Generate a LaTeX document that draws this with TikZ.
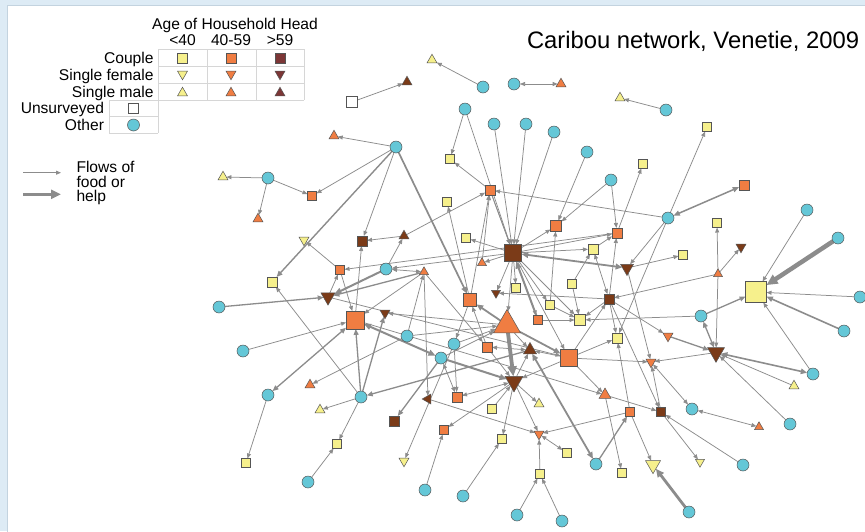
\documentclass[tikz,border=0pt]{standalone}
\usepackage{fontspec}
\setmainfont{Liberation Sans}
\usetikzlibrary{arrows.meta,shapes.geometric}
\definecolor{yel}{HTML}{F6F08C}
\definecolor{org}{HTML}{F07D42}
\definecolor{brn}{HTML}{7B3B18}
\definecolor{legbrn}{HTML}{7C3636}
\definecolor{cyn}{HTML}{64C7D7}
\definecolor{olc}{HTML}{555555}
\definecolor{edgec}{HTML}{8C8C8C}
\definecolor{bgblue}{HTML}{DDEBF5}
\definecolor{bordc}{HTML}{C3D3DF}
\definecolor{gridc}{HTML}{D6D6D6}
\pgfdeclarelayer{bg}
\pgfdeclarelayer{edges}
\pgfsetlayers{bg,edges,main}
\tikzset{
  nd/.style={draw=olc, line width=0.5pt, inner sep=0pt, outer sep=0pt},
  nsq/.style 2 args={nd, rectangle, fill=#1, minimum size=#2pt},
  ntu/.style 2 args={nd, regular polygon, regular polygon sides=3, fill=#1, minimum size={1.155*#2pt}},
  ntd/.style 2 args={ntu={#1}{#2}, shape border rotate=180},
  ntl/.style 2 args={ntu={#1}{#2}, shape border rotate=90},
  nci/.style={nd, circle, fill=cyn, minimum size=12pt},
  >={Triangle[length=3.8pt 1.6,width=2.8pt 1.6]},
  lt/.style={draw=edgec, line width=0.75pt},
  lm/.style={draw=edgec, line width=1.3pt},
  lk/.style={draw=edgec, line width=2pt},
  lkk/.style={draw=edgec, line width=4pt},
  txt/.style={inner sep=0pt, outer sep=0pt},
}
\begin{document}
\begin{tikzpicture}[x=1pt,y=-1pt,font=\fontsize{15.6}{17}\selectfont]
\useasboundingbox (0,0) rectangle (865,531);
\begin{pgfonlayer}{bg}
\fill[bgblue] (0,0) rectangle (865,531);
\fill[white] (7.5,5) rectangle (866,532);
\draw[bordc,line width=0.6pt] (7.5,532) -- (7.5,5) -- (866,5);
\end{pgfonlayer}

% ---------- title ----------
\node[txt,anchor=base west,font=\fontsize{23.8}{26}\selectfont] (title) at (527,48) {Caribou network, Venetie, 2009};

% ---------- legend table ----------
\draw[gridc,line width=0.7pt] (158,49.3) -- (304,49.3) (158,66.7) -- (304,66.7) (158,83.3) -- (304,83.3)
  (109,100) -- (304,100) (109,116.7) -- (158,116.7) (109,133.3) -- (158,133.3)
  (158,49.3) -- (158,133.3) (207,49.3) -- (207,100) (256,49.3) -- (256,100) (304,49.3) -- (304,100)
  (109,100) -- (109,133.3);
\node[txt,anchor=base] (hdr) at (235,29.3) {Age of Household Head};
\node[txt,anchor=base] (h1) at (182.5,45) {<40};
\node[txt,anchor=base] (h2) at (231,45) {40-59};
\node[txt,anchor=base] (h3) at (280,45) {>59};
\node[txt,anchor=base east] (r1) at (153.5,63.5) {Couple};
\node[txt,anchor=base east] (r2) at (153.5,80.5) {Single female};
\node[txt,anchor=base east] (r3) at (153.5,97.2) {Single male};
\node[txt,anchor=base east] (r4) at (104,113.8) {Unsurveyed};
\node[txt,anchor=base east] (r5) at (104,130.5) {Other};
\node[nsq={yel}{10}] (ly1) at (182.5,58) {};
\node[nsq={org}{10}] (lo1) at (231,58) {};
\node[nsq={legbrn}{10}] (lb1) at (280,58) {};
\node[ntd={yel}{10}] (ly2) at (182.5,74) {};
\node[ntd={org}{10}] (lo2) at (231,74) {};
\node[ntd={legbrn}{10}] (lb2) at (280,74) {};
\node[ntu={yel}{10}] (ly3) at (182.5,93) {};
\node[ntu={org}{10}] (lo3) at (231,93) {};
\node[ntu={legbrn}{10}] (lb3) at (280,93) {};
\node[nsq={white}{10}] (lw) at (133.5,108.3) {};
\node[nci] (lc) at (133.5,125) {};

% flows legend
\coordinate (fa1) at (23,172.7); \coordinate (fa2) at (61,172.7);
\coordinate (fb1) at (23,194.3); \coordinate (fb2) at (61,194.3);
\draw[lt,->] (fa1) -- (fa2);
\draw[draw=edgec,line width=3pt,-{Triangle[length=10pt,width=9pt]}] (fb1) -- (fb2);
\node[txt,anchor=base west] (fl1) at (76.5,172.3) {Flows of};
\node[txt,anchor=base west] (fl2) at (76.5,187.3) {food or};
\node[txt,anchor=base west] (fl3) at (76.5,201.7) {help};

% ---------- nodes ----------
\node[nsq={white}{11}] (w1) at (352,102) {};
\node[ntu={brn}{10}] (b1) at (407,82) {};
\node[ntu={yel}{10}] (y1) at (432,60) {};
\node[nci] (c1) at (483,87) {};
\node[nci] (c2) at (514,84) {};
\node[ntu={org}{10}] (o1) at (561,84) {};
\node[nci] (c3) at (465,109) {};
\node[nci] (c4) at (494,124) {};
\node[nci] (c5) at (526,124) {};
\node[nci] (c6) at (554,132) {};
\node[nci] (c7) at (587,152) {};
\node[ntu={org}{10}] (o2) at (334,136) {};
\node[nci] (c8) at (396,147) {};
\node[nsq={yel}{9}] (y2) at (450,159) {};
\node[ntu={yel}{10}] (y3) at (620,98) {};
\node[nci] (c9) at (666,110) {};
\node[nsq={yel}{9}] (y4) at (707,127) {};
\node[ntu={yel}{10}] (y5) at (223,177) {};
\node[nci] (c10) at (268,178) {};
\node[nsq={org}{9}] (o3) at (312,196) {};
\node[ntu={org}{10}] (o4) at (258,219) {};
\node[ntd={yel}{10}] (y6) at (304,240) {};
\node[nsq={brn}{10}] (b2) at (362,241) {};
\node[ntu={brn}{10}] (b3) at (404,236) {};
\node[nsq={yel}{10}] (y7) at (272,282) {};
\node[nsq={org}{9}] (o5) at (340,270) {};
\node[nci] (c11) at (386,269) {};
\node[ntd={brn}{14}] (b4) at (328,297) {};
\node[nci] (c12) at (219,307) {};
\node[nsq={org}{18}] (o6) at (355,320) {};
\node[ntd={brn}{10}] (b5) at (385,313) {};
\node[ntu={org}{9}] (o7) at (424,272) {};
\node[nci] (c13) at (407,336) {};
\node[nci] (c14) at (454,344) {};
\node[nci] (c15) at (441,358) {};
\node[nci] (c16) at (243,351) {};
\node[nci] (c17) at (268,395) {};
\node[ntu={org}{10}] (o8) at (310,385) {};
\node[nci] (c18) at (361,397) {};
\node[ntu={yel}{10}] (y8) at (320,410) {};
\node[nsq={brn}{10}] (b6) at (394,421) {};
\node[nsq={yel}{9}] (y9) at (337,444) {};
\node[nsq={yel}{9}] (y10) at (246,463) {};
\node[ntd={yel}{10}] (y11) at (404,461) {};
\node[nci] (c19) at (308,482) {};
\node[nsq={org}{10}] (o9) at (490,190) {};
\node[nsq={yel}{9}] (y12) at (447,202) {};
\node[nsq={yel}{9}] (y13) at (466,238) {};
\node[nsq={brn}{17}] (b7) at (513,253) {};
\node[ntu={org}{9}] (o10) at (482,263) {};
\node[nsq={org}{11}] (o11) at (556,226) {};
\node[nci] (c20) at (611,180) {};
\node[nsq={yel}{10}] (y14) at (593,249) {};
\node[nsq={org}{10}] (o12) at (617,233) {};
\node[nsq={yel}{9}] (y15) at (516,288) {};
\node[ntd={brn}{9}] (b8) at (496,293) {};
\node[nsq={yel}{9}] (y16) at (572,284) {};
\node[nsq={brn}{10}] (b9) at (609,299) {};
\node[nsq={org}{13}] (o13) at (470,300) {};
\node[nsq={yel}{9}] (y17) at (550,305) {};
\node[nsq={org}{9}] (o14) at (538,320) {};
\node[nsq={yel}{11}] (y18) at (580,320) {};
\node[ntu={org}{27}] (o15) at (507,325) {};
\node[nsq={yel}{10}] (y19) at (617,338) {};
\node[nsq={org}{10}] (o16) at (487,347) {};
\node[ntu={brn}{13}] (b10) at (530,350) {};
\node[nsq={org}{17}] (o17) at (569,358) {};
\node[ntd={brn}{18}] (b11) at (514,381.5) {};
\node[ntu={org}{12}] (o18) at (605,395) {};
\node[ntl={brn}{10}] (b12) at (428,399) {};
\node[nsq={org}{10}] (o19) at (457,397) {};
\node[ntu={yel}{10}] (y20) at (539,404) {};
\node[nsq={yel}{9}] (y21) at (492,409) {};
\node[nsq={org}{9}] (o20) at (444,430) {};
\node[nsq={yel}{9}] (y22) at (502,439) {};
\node[ntd={org}{10}] (o21) at (539,434) {};
\node[nsq={yel}{9}] (y23) at (567,453) {};
\node[nci] (c21) at (596,464) {};
\node[nsq={yel}{9}] (y24) at (540,474) {};
\node[nci] (c22) at (425,490) {};
\node[nci] (c23) at (463,496) {};
\node[nci] (c24) at (517,515) {};
\node[nci] (c25) at (562,521) {};
\node[nsq={yel}{9}] (y25) at (622,473) {};
\node[nsq={yel}{9}] (y26) at (643,164) {};
\node[nsq={org}{10}] (o22) at (744,185) {};
\node[nci] (c26) at (668,218) {};
\node[nsq={yel}{9}] (y27) at (717,223) {};
\node[nci] (c27) at (807,210) {};
\node[nci] (c28) at (838,238) {};
\node[ntd={brn}{10}] (b13) at (741,247) {};
\node[ntd={brn}{13}] (b14) at (627,268) {};
\node[nsq={yel}{9}] (y28) at (683,255) {};
\node[ntu={org}{9}] (o23) at (718,274) {};
\node[nsq={yel}{21}] (y29) at (756,292) {};
\node[nci] (c29) at (860,297) {};
\node[nci] (c30) at (701,316) {};
\node[nci] (c31) at (844,331) {};
\node[ntd={org}{10}] (o24) at (668,336) {};
\node[ntd={brn}{17}] (b15) at (716,352.5) {};
\node[ntd={org}{10}] (o25) at (651,362) {};
\node[nci] (c32) at (813,374) {};
\node[ntu={yel}{10}] (y30) at (794,386) {};
\node[nsq={org}{9}] (o26) at (630,412) {};
\node[nsq={brn}{9}] (b16) at (661,412) {};
\node[nci] (c33) at (692,409) {};
\node[ntu={org}{9}] (o27) at (759,427) {};
\node[nci] (c34) at (790,424) {};
\node[ntd={yel}{9}] (y31) at (700,462) {};
\node[nci] (c35) at (743,465) {};
\node[ntd={yel}{15}] (y32) at (653,465) {};
\node[nci] (c36) at (689,512) {};

% ---------- edges ----------
\begin{pgfonlayer}{edges}
\draw[lt,->] (w1) -- (b1);
\draw[lt,->] (c1) -- (y1);
\draw[lt,<->] (c2) -- (o1);
\draw[lt,->] (c3) -- (y2);
\draw[lt,->] (c9) -- (y3);
\draw[lt,->] (c26) -- (y4);
\draw[lt,->] (c8) -- (o2);
\draw[lt,->] (c8) -- (o3);
\draw[lt,->] (c10) -- (y5);
\draw[lt,->] (c10) -- (o3);
\draw[lt,->] (c10) -- (o4);
\draw[draw=edgec,line width=1.4pt,->] (c8) -- (y7);
\draw[lt,->] (c8) -- (b2);
\draw[draw=edgec,line width=1.7pt,->] (c8) -- (o13);
\draw[lt,->] (c3) -- (b7);
\draw[lt,->] (c4) -- (b7);
\draw[lt,->] (c5) -- (b7);
\draw[lt,->] (c6) -- (b7);
\draw[lt,->] (o9) -- (b7);
\draw[lt,->] (c7) -- (o11);
\draw[lt,->] (c20) -- (o11);
\draw[lt,->] (c20) -- (o12);
\draw[lt,->] (o9) -- (y2);
\draw[lt,->] (b3) -- (o9);
\draw[lt,->] (c26) -- (o9);
\draw[lt,->] (o13) -- (o9);
\draw[lt,->] (o10) -- (o9);
\draw[lt,->] (o9) -- (o14);
\draw[lt,->] (o13) -- (y12);
\draw[lt,->] (b7) -- (y13);
\draw[lt,->] (b7) -- (o10);
\draw[lt,->] (b7) -- (o11);
\draw[lt,->] (b7) -- (y14);
\draw[lt,->] (b7) -- (o12);
\draw[draw=edgec,line width=1.8pt,<->] (b7) -- (b14);
\draw[lt,->] (b7) -- (y15);
\draw[lt,->] (b7) -- (b8);
\draw[lk,->] (o14) -- (b7);
\draw[lt,->] (b7) -- (y18);
\draw[lt,->] (b7) -- (o17);
\draw[lt,->] (b7) -- (o15);
\draw[lt,->] (b7) -- (y17);
\draw[lt,->] (b7) -- (c11);
\draw[lt,->] (y14) -- (o12);
\draw[lt,<->] (y14) -- (b9);
\draw[lt,->] (b9) -- (o12);
\draw[lt,->] (y16) -- (y14);
\draw[lt,->] (y16) -- (y18);
\draw[lt,->] (y17) -- (y18);
\draw[lt,->] (y17) -- (o11);
\draw[lt,->] (o14) -- (y18);
\draw[lt,->] (b9) -- (b8);
\draw[lt,->] (b9) -- (y18);
\draw[lt,->] (b9) -- (o24);
\draw[lt,->] (b9) -- (y19);
\draw[lt,->] (b9) -- (b16);
\draw[lt,->] (o17) -- (b9);
\draw[lt,->] (o17) -- (y19);
\draw[lt,->] (o17) -- (o25);
\draw[lt,->] (o12) -- (y26);
\draw[lt,->] (o12) -- (o5);
\draw[draw=edgec,line width=1.5pt,<->] (c26) -- (o22);
\draw[lt,->] (c26) -- (b14);
\draw[lt,->] (c26) -- (y19);
\draw[lt,->] (b14) -- (y28);
\draw[lt,->] (b14) -- (o25);
\draw[lt,->] (o23) -- (y27);
\draw[lt,->] (o23) -- (b13);
\draw[lt,->] (o23) -- (b9);
\draw[lt,->] (o23) -- (b15);
\draw[lt,->] (c27) -- (y29);
\draw[draw=edgec,line width=4.5pt,->] (c28) -- (y29);
\draw[lt,->] (c29) -- (y29);
\draw[lm,->] (c30) -- (y29);
\draw[draw=edgec,line width=1.6pt,->] (c31) -- (y29);
\draw[lt,->] (c32) -- (y29);
\draw[lt,->] (c30) -- (y18);
\draw[lm,<->] (c30) -- (b15);
\draw[draw=edgec,line width=1.6pt,<->] (c32) -- (b15);
\draw[lt,->] (y30) -- (b15);
\draw[lt,->] (c34) -- (b15);
\draw[lm,->] (o24) -- (b15);
\draw[lt,->] (b15) -- (o25);
\draw[lt,->] (b16) -- (o25);
\draw[lt,<->] (o25) -- (c33);
\draw[lt,->] (o18) -- (b16);
\draw[lt,->] (c35) -- (b16);
\draw[lt,->] (b16) -- (y31);
\draw[lt,<->] (c33) -- (o27);
\draw[draw=edgec,line width=2.8pt,->] (c36) -- (y32);
\draw[lt,->] (o26) -- (y32);
\draw[lm,->] (c21) -- (o26);
\draw[lt,->] (o26) -- (y19);
\draw[lt,->] (o18) -- (y25);
\draw[lt,->] (o17) -- (o18);
\draw[lt,->] (o26) -- (o21);
\draw[draw=edgec,line width=1.8pt,<->] (c21) -- (b10);
\draw[lt,->] (o5) -- (y6);
\draw[lt,->] (c11) -- (b3);
\draw[lt,->] (b3) -- (b2);
\draw[lt,->] (o6) -- (b2);
\draw[lt,->] (b4) -- (o5);
\draw[lt,->] (o5) -- (o6);
\draw[lk,->] (c11) -- (b4);
\draw[lm,->] (o7) -- (b4);
\draw[lt,<->] (o7) -- (c11);
\draw[lt,->] (o7) -- (o6);
\draw[lt,->] (o7) -- (b12);
\draw[lt,->] (o7) -- (o16);
\draw[lt,->] (c13) -- (o7);
\draw[lm,->] (c12) -- (b4);
\draw[lt,->] (c16) -- (o6);
\draw[lm,<->] (c17) -- (o6);
\draw[lm,->] (c18) -- (o6);
\draw[lm,->] (c18) -- (b5);
\draw[lt,->] (c18) -- (y7);
\draw[lt,->] (c18) -- (y8);
\draw[lt,->] (c18) -- (y9);
\draw[lt,->] (c19) -- (y9);
\draw[lt,->] (c17) -- (y10);
\draw[lm,->] (b10) -- (c18);
\draw[lm,->] (c15) -- (b6);
\draw[lt,->] (c14) -- (y11);
\draw[lt,->] (c13) -- (o8);
\draw[lk,<->] (o6) -- (c15);
\draw[lk,->] (c15) -- (b11);
\draw[lt,->] (b4) -- (o17);
\draw[lt,->] (o6) -- (o18);
\draw[draw=edgec,line width=3.8pt,->] (o15) -- (b11);
\draw[draw=edgec,line width=1.8pt,->] (o15) -- (o13);
\draw[draw=edgec,line width=1.8pt,->] (o15) -- (o17);
\draw[lt,->] (o15) -- (b5);
\draw[lt,->] (c13) -- (o15);
\draw[lt,->] (c14) -- (o15);
\draw[lt,->] (c15) -- (o15);
\draw[lt,->] (o13) -- (c14);
\draw[lt,->] (c14) -- (o19);
\draw[lt,<->] (c15) -- (o19);
\draw[lt,->] (o16) -- (o13);
\draw[lt,<->] (o16) -- (b10);
\draw[lt,->] (o16) -- (b11);
\draw[lt,->] (o15) -- (b10);
\draw[lt,->] (b11) -- (b10);
\draw[lt,->] (o17) -- (b10);
\draw[lt,->] (o17) -- (b11);
\draw[lt,->] (b11) -- (y20);
\draw[lt,->] (y21) -- (b11);
\draw[lt,<->] (b11) -- (o19);
\draw[lt,->] (b11) -- (o20);
\draw[lt,->] (b11) -- (y22);
\draw[lt,->] (b11) -- (o21);
\draw[lt,->] (b12) -- (o21);
\draw[lt,->] (c22) -- (o20);
\draw[lt,->] (c23) -- (y22);
\draw[lt,->] (c24) -- (y24);
\draw[lt,->] (c25) -- (y24);
\draw[lt,->] (y24) -- (o21);
\draw[lt,<->] (o21) -- (y23);
\end{pgfonlayer}
\end{tikzpicture}
\end{document}
